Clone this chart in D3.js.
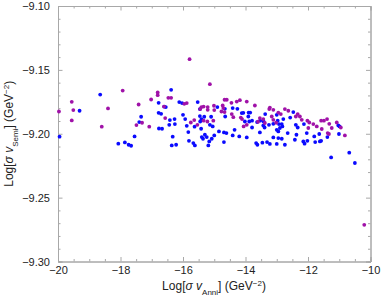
<!DOCTYPE html>
<html><head><meta charset="utf-8">
<script src="https://cdn.jsdelivr.net/npm/d3@7"></script>
<style>body{margin:0;background:#fff}svg{display:block}text{font-family:"Liberation Sans",Arial,sans-serif}</style>
</head><body>
<svg id="c" width="382" height="300"></svg>
<script>
const xTicks = [-20, -18, -16, -14, -12, -10];
const yTicks = [-9.30, -9.25, -9.20, -9.15, -9.10];
const purpleX = [-19.97,-19.56,-19.51,-19.56,-17.93,-18.40,-18.60,-17.42,-17.49,-17.31,-17.08,-17.02,-16.81,-16.81,-15.79,-15.14,-16.47,-16.38,-16.61,-15.96,-15.88,-15.41,-15.34,-15.45,-15.21,-15.21,-15.01,-15.00,-16.57,-15.75,-15.64,-15.54,-15.34,-15.22,-15.03,-14.67,-14.60,-14.45,-14.28,-14.18,-13.96,-13.70,-14.73,-14.71,-14.77,-14.67,-14.44,-14.39,-14.15,-14.11,-13.54,-13.43,-13.22,-13.16,-14.06,-13.96,-12.74,-12.63,-12.39,-12.33,-12.26,-12.20,-12.02,-11.96,-11.83,-11.72,-11.58,-11.49,-11.39,-11.99,-11.32,-11.08,-10.95,-11.56,-11.24,-11.37,-11.33,-10.82,-10.20,-13.24,-13.11,-12.95,-12.87,-13.11,-13.02,-13.38,-13.60];
const purpleY = [-9.1826,-9.1750,-9.1815,-9.1896,-9.1662,-9.1802,-9.1945,-9.1771,-9.1932,-9.1914,-9.1945,-9.1732,-9.1677,-9.1698,-9.1416,-9.1612,-9.1719,-9.1719,-9.1787,-9.1766,-9.1760,-9.1791,-9.1787,-9.1807,-9.1791,-9.1813,-9.1781,-9.1815,-9.1877,-9.1912,-9.1893,-9.1930,-9.1898,-9.1904,-9.1898,-9.1734,-9.1734,-9.1758,-9.1748,-9.1737,-9.1748,-9.1779,-9.1779,-9.1799,-9.1826,-9.1830,-9.1846,-9.1870,-9.1873,-9.1885,-9.1877,-9.1885,-9.1795,-9.1865,-9.1943,-9.1930,-9.1807,-9.1820,-9.1865,-9.1846,-9.1865,-9.1891,-9.1898,-9.1912,-9.1924,-9.1943,-9.1898,-9.1898,-9.1885,-9.1955,-9.1922,-9.1912,-9.1951,-9.1963,-9.1955,-9.1995,-9.2002,-9.2013,-9.2713,-9.1807,-9.1813,-9.1834,-9.1846,-9.1891,-9.1914,-9.1916,-9.1906];
const blueX = [-19.95,-19.31,-18.65,-17.34,-17.40,-17.55,-18.07,-17.86,-17.74,-17.66,-16.78,-16.78,-16.77,-16.38,-16.12,-16.03,-15.53,-16.60,-16.55,-16.70,-16.00,-15.46,-14.90,-16.42,-16.27,-15.93,-15.63,-15.46,-15.41,-15.45,-15.32,-15.10,-15.14,-15.05,-16.26,-15.83,-15.40,-15.30,-15.24,-15.36,-15.08,-15.00,-16.33,-15.62,-15.16,-15.19,-16.36,-16.22,-14.85,-14.66,-14.41,-14.26,-14.65,-14.07,-13.90,-13.85,-13.37,-13.88,-13.79,-13.63,-13.53,-13.42,-13.79,-14.35,-13.43,-13.39,-14.69,-14.61,-13.25,-13.11,-14.20,-14.41,-13.96,-13.54,-13.11,-14.69,-13.66,-13.62,-13.46,-13.31,-13.22,-12.47,-13.00,-12.97,-12.93,-12.79,-12.57,-12.84,-12.82,-12.90,-12.39,-12.33,-12.13,-13.00,-12.95,-12.65,-12.37,-12.04,-12.95,-12.84,-12.42,-11.80,-11.64,-12.15,-12.02,-12.11,-13.00,-12.74,-11.77,-11.62,-11.03,-10.99,-11.01,-11.38,-11.58,-10.68,-11.26,-10.50,-16.67,-16.44,-15.42,-15.88,-15.67,-15.81,-14.02,-13.91,-14.12];
const blueY = [-9.2023,-9.1820,-9.1693,-9.1867,-9.1909,-9.2021,-9.2078,-9.2068,-9.2086,-9.2094,-9.1758,-9.1836,-9.1959,-9.1656,-9.1752,-9.1760,-9.1752,-9.1787,-9.1791,-9.1844,-9.1852,-9.1807,-9.1791,-9.1893,-9.1885,-9.1885,-9.1945,-9.1862,-9.1885,-9.1904,-9.1867,-9.1867,-9.1930,-9.1943,-9.1924,-9.1987,-9.2026,-9.2008,-9.2026,-9.2039,-9.2039,-9.2013,-9.2023,-9.2091,-9.2060,-9.2091,-9.2091,-9.2086,-9.1982,-9.1805,-9.1799,-9.1805,-9.1865,-9.1836,-9.1834,-9.1834,-9.1846,-9.1904,-9.1898,-9.1909,-9.1898,-9.1904,-9.1951,-9.1969,-9.1935,-9.1951,-9.1990,-9.1995,-9.1930,-9.1922,-9.2021,-9.2013,-9.2029,-9.1990,-9.2029,-9.2065,-9.2073,-9.2086,-9.2070,-9.2065,-9.2080,-9.1830,-9.1852,-9.1898,-9.1924,-9.1885,-9.1873,-9.1924,-9.1943,-9.1955,-9.1930,-9.1951,-9.1924,-9.1969,-9.1982,-9.1995,-9.2008,-9.1995,-9.2034,-9.2039,-9.2047,-9.2021,-9.2002,-9.2060,-9.2055,-9.2078,-9.2080,-9.2086,-9.2065,-9.2060,-9.1935,-9.1943,-9.2002,-9.2026,-9.2055,-9.2148,-9.2185,-9.2229,-9.1961,-9.1930,-9.1961,-9.1938,-9.2073,-9.2055,-9.1904,-9.1865,-9.1838];

const svg = d3.select("#c");
const L = 58, R = 370.5, T = 6, B = 261.5;
const x = d3.scaleLinear().domain([-20, -10]).range([L, R]);
const y = d3.scaleLinear().domain([-9.30, -9.10]).range([B, T]);
const frameCol = "#a8a8a8";

const xMinor = d3.range(-20, -9.99, 0.5).filter(v => Math.abs(v % 2) > 1e-9);
const yMinor = d3.range(0, 21).map(i => -9.30 + i * 0.01).filter((v, i) => i % 5 !== 0);

function styleAxis(g, showText) {
  g.select(".domain").attr("stroke", frameCol).attr("stroke-width", 1);
  g.selectAll(".tick line").attr("stroke", frameCol);
  g.selectAll("text").attr("fill", "#222").style("font-size", "11px");
  if (!showText) g.selectAll("text").remove();
}
const fmtX = d => d3.format("d")(d);
const fmtY = d => d3.format(".2f")(d);

svg.append("g").attr("transform", `translate(0,${B})`)
  .call(d3.axisBottom(x).tickValues(xTicks).tickFormat(fmtX).tickSize(-4.5).tickPadding(5))
  .call(g => styleAxis(g, true));
svg.append("g").attr("transform", `translate(0,${B})`)
  .call(d3.axisBottom(x).tickValues(xMinor).tickFormat("").tickSize(-2.5))
  .call(g => styleAxis(g, false));
svg.append("g").attr("transform", `translate(0,${T})`)
  .call(d3.axisTop(x).tickValues(xTicks).tickFormat("").tickSize(-4.5))
  .call(g => styleAxis(g, false));
svg.append("g").attr("transform", `translate(0,${T})`)
  .call(d3.axisTop(x).tickValues(xMinor).tickFormat("").tickSize(-2.5))
  .call(g => styleAxis(g, false));
svg.append("g").attr("transform", `translate(${L},0)`)
  .call(d3.axisLeft(y).tickValues(yTicks).tickFormat(fmtY).tickSize(-4.5).tickPadding(8))
  .call(g => styleAxis(g, true));
svg.append("g").attr("transform", `translate(${L},0)`)
  .call(d3.axisLeft(y).tickValues(yMinor).tickFormat("").tickSize(-2.5))
  .call(g => styleAxis(g, false));
svg.append("g").attr("transform", `translate(${R},0)`)
  .call(d3.axisRight(y).tickValues(yTicks).tickFormat("").tickSize(-4.5))
  .call(g => styleAxis(g, false));
svg.append("g").attr("transform", `translate(${R},0)`)
  .call(d3.axisRight(y).tickValues(yMinor).tickFormat("").tickSize(-2.5))
  .call(g => styleAxis(g, false));

const blue = blueX.map((v, i) => [v, blueY[i]]);
const purple = purpleX.map((v, i) => [v, purpleY[i]]);
svg.append("g").selectAll("circle").data(blue).join("circle")
  .attr("cx", d => x(d[0])).attr("cy", d => y(d[1])).attr("r", 1.9).attr("fill", "#0a0aff");
svg.append("g").selectAll("circle").data(purple).join("circle")
  .attr("cx", d => x(d[0])).attr("cy", d => y(d[1])).attr("r", 1.9).attr("fill", "#a012a8");

function label(t, parts) {
  parts.forEach(p => {
    const s = t.append("tspan").text(p.t);
    if (p.it) s.style("font-style", "italic");
    if (p.sub) s.attr("baseline-shift", "sub").style("font-size", "8px");
    if (p.sup) s.attr("baseline-shift", "super").style("font-size", "8px");
  });
}
const xl = svg.append("text").attr("x", 214).attr("y", 290).attr("text-anchor", "middle")
  .attr("fill", "#222").style("font-size", "12px");
label(xl, [{t: "Log["}, {t: "σ", it: 1}, {t: " "}, {t: "v", it: 1}, {t: "Anni", sub: 1}, {t: "] (GeV"}, {t: "−2", sup: 1}, {t: ")"}]);
const yl = svg.append("text").attr("transform", `translate(13,${(T + B) / 2}) rotate(-90)`)
  .attr("text-anchor", "middle").attr("fill", "#222").style("font-size", "12px");
label(yl, [{t: "Log["}, {t: "σ", it: 1}, {t: " "}, {t: "v", it: 1}, {t: "Semi", sub: 1}, {t: "] (GeV"}, {t: "−2", sup: 1}, {t: ")"}]);
</script>
</body></html>
